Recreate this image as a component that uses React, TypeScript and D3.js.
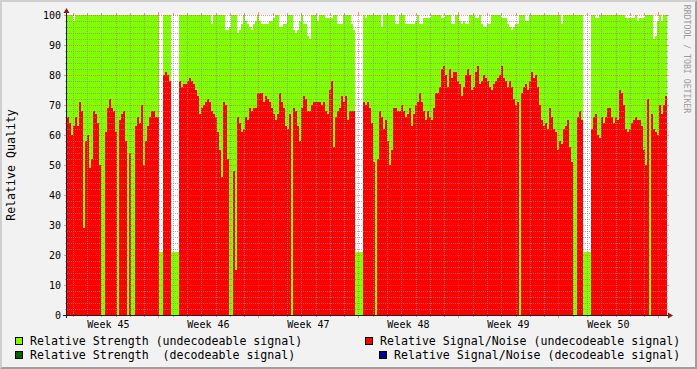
import React from "react";
import * as d3 from "d3";

// Relative Signal/Noise (undecodeable signal), one value per consolidated step (0 = no S/N sample)
const snPart1 = [66,64,60,63,66,63,71,68,29,58, 60,49,52,68,67,64,50,0,0,61, 69,72,69,68,61,0,65,67,68,58, 0,54,0,0,63,66,64,70,50,58, 63,66,68,68,66,66,0,0,80,81];
const snPart2 = [80,78,0,0,0,0,78,76,77,77, 78,79,78,77,75,73,67,69,70,71, 72,71,68,67,66,61,55,46,71,70, 52,0,0,48,15,66,64,61,62,66, 65,69,68,69,69,74,74,74,71,73];
const snPart3 = [72,71,69,67,65,67,74,71,69,63, 62,67,0,69,68,63,58,69,73,72, 68,68,70,71,71,71,71,70,71,68, 67,75,78,56,66,68,69,73,71,73, 65,68,68,68,0,0,0,0,71,70];
const snPart4 = [71,69,64,51,0,52,68,66,62,65, 58,50,55,69,69,68,68,70,68,66, 67,69,63,67,70,71,74,71,68,65, 68,66,65,69,74,74,76,82,83,80, 76,82,79,81,81,78,77,73,76,80];
const snPart5 = [82,80,75,76,81,83,77,78,80,79, 78,76,75,77,78,79,80,83,79,78, 76,78,76,72,70,71,0,74,76,77, 75,78,81,79,80,76,70,65,63,64, 62,69,66,62,61,55,58,57,62,63];
const snPart6 = [65,56,51,0,0,66,68,65,0,0, 0,0,62,66,67,60,59,66,64,66, 69,69,66,64,66,65,75,74,70,62, 61,62,64,65,66,65,65,63,55,50, 72,0,67,62,61,60,70,67,70,73];

// Relative Strength (undecodeable signal)
const stPart1 = [100,100,100,98,100,100,100,100,100,100, 100,100,100,100,100,100,100,100,100,100, 100,100,100,100,100,100,100,100,100,100, 100,100,100,100,100,100,100,100,100,100, 100,100,100,100,100,100,21,21,100,100];
const stPart2 = [100,100,21,21,21,21,100,100,100,100, 100,100,100,100,100,100,100,100,100,100, 100,100,97,100,100,100,100,100,100,95, 95,96,100,100,100,94,95,97,100,98, 97,96,95,97,98,100,98,97,97,97];
const stPart3 = [97,98,98,99,100,100,96,96,97,97, 100,100,100,95,94,95,98,100,97,97, 93,92,100,100,100,98,100,100,100,99, 99,99,99,100,100,97,97,97,100,100, 100,100,97,95,21,21,21,21,100,99];
const stPart4 = [100,100,100,100,100,100,100,96,100,100, 100,100,100,100,97,97,100,100,100,97, 97,97,97,97,98,100,97,97,99,99, 99,99,100,100,100,100,100,99,99,100, 100,100,97,97,100,100,98,97,98,97];
const stPart5 = [97,100,100,100,99,99,100,97,96,96, 97,97,100,100,100,100,100,99,99,99, 97,96,95,96,97,97,100,100,100,98, 98,100,100,100,100,100,100,100,100,100, 100,100,100,100,100,100,100,97,100,100];
const stPart6 = [100,100,100,100,100,100,100,100,21,21, 21,21,100,100,99,99,100,100,100,100, 100,100,100,100,100,100,100,100,100,99, 99,99,99,99,100,98,99,99,99,100, 100,100,100,92,93,98,100,98,100,100];

const weekLabels = ["Week 45", "Week 46", "Week 47", "Week 48", "Week 49", "Week 50"];
const yTicks = [0, 10, 20, 30, 40, 50, 60, 70, 80, 90, 100];
const totalDays = 42;
const firstWeekStartDay = -0.6;

const legendItems = [
  { label: "Relative Strength (undecodeable signal)", color: "#80ff00" },
  { label: "Relative Strength  (decodeable signal)", color: "#006400" },
  { label: "Relative Signal/Noise (undecodeable signal)", color: "#ff0000" },
  { label: "Relative Signal/Noise (decodeable signal)", color: "#000088" },
];

const W = 697, H = 369;
const L = 67, R = 667, T = 15, B = 315;
const MONO = "'DejaVu Sans Mono', monospace";
const GRID = "rgba(143,143,143,0.75)";
const MGRID = "rgba(222,79,79,0.6)";

export default function App() {
  const sn = [...snPart1, ...snPart2, ...snPart3, ...snPart4, ...snPart5, ...snPart6];
  const st = [...stPart1, ...stPart2, ...stPart3, ...stPart4, ...stPart5, ...stPart6];
  const n = sn.length;
  const dayPerStep = totalDays / n;
  const x = d3.scaleLinear().domain([0, totalDays]).range([L, R]);
  const y = d3.scaleLinear().domain([0, 100]).range([B, T]);

  const minorY = d3.range(0, 101, 2).filter((v) => v % 10 !== 0);
  const dayLines: number[] = [];
  for (let d = firstWeekStartDay; d < totalDays; d += 1) if (d > 0) dayLines.push(d);
  const weekLines = dayLines.filter((_, i) => false || false);
  const weekStarts = weekLabels.map((_, i) => firstWeekStartDay + 7 * i).concat([firstWeekStartDay + 7 * weekLabels.length]);
  const isWeek = (d: number) => weekStarts.some((w) => Math.abs(w - d) < 1e-6);
  const px = (v: number) => Math.round(v) + 0.5;

  return (
    <svg width={W} height={H} style={{ position: "absolute", left: 0, top: 0 }} xmlns="http://www.w3.org/2000/svg">
      <rect x={0} y={0} width={W} height={H} fill="#f2f2f2" />
      <polygon points={`0,0 ${W},0 ${W - 2},2 2,2 2,${H - 2} 0,${H}`} fill="#cfcfcf" />
      <polygon points={`${W},0 ${W},${H} 0,${H} 2,${H - 2} ${W - 2},${H - 2} ${W - 2},2`} fill="#9e9e9e" />
      <rect x={L} y={T} width={R - L} height={B - T} fill="#ffffff" />
      <g shapeRendering="crispEdges">
        {st.map((v, i) => (
          <rect key={"g" + i} x={x(i * dayPerStep)} width={x((i + 1) * dayPerStep) - x(i * dayPerStep)} y={y(v)} height={B - y(v)} fill="#80ff00" />
        ))}
        {sn.map((v, i) =>
          v > 0 ? (
            <rect key={"r" + i} x={x(i * dayPerStep)} width={x((i + 1) * dayPerStep) - x(i * dayPerStep)} y={y(v)} height={B - y(v)} fill="#ff0000" />
          ) : null
        )}
      </g>
      <g shapeRendering="crispEdges">
        {minorY.map((v) => (
          <g key={"my" + v}>
            <line x1={L} x2={R} y1={px(y(v))} y2={px(y(v))} stroke={GRID} strokeDasharray="1,1" />
            <line x1={L - 2} x2={L} y1={px(y(v))} y2={px(y(v))} stroke={GRID} />
            <line x1={R - 1} x2={R + 1} y1={px(y(v))} y2={px(y(v))} stroke={GRID} />
          </g>
        ))}
        {dayLines.filter((d) => !isWeek(d)).map((d) => (
          <g key={"dx" + d}>
            <line x1={px(x(d))} x2={px(x(d))} y1={T} y2={B} stroke={GRID} strokeDasharray="1,1" />
            <line x1={px(x(d))} x2={px(x(d))} y1={B} y2={B + 2} stroke={GRID} />
            <line x1={px(x(d))} x2={px(x(d))} y1={T - 2} y2={T} stroke={GRID} />
          </g>
        ))}
        {yTicks.filter((v) => v > 0).map((v) => (
          <g key={"My" + v}>
            <line x1={L} x2={R} y1={px(y(v))} y2={px(y(v))} stroke={MGRID} strokeDasharray="1,1" />
            <line x1={L - 3} x2={L} y1={px(y(v))} y2={px(y(v))} stroke={MGRID} />
            <line x1={R - 1} x2={R + 2} y1={px(y(v))} y2={px(y(v))} stroke={MGRID} />
          </g>
        ))}
        {weekStarts.filter((d) => d > 0 && d < totalDays).map((d) => (
          <g key={"wx" + d}>
            <line x1={px(x(d))} x2={px(x(d))} y1={T} y2={B} stroke={MGRID} strokeDasharray="1,1" />
            <line x1={px(x(d))} x2={px(x(d))} y1={B} y2={B + 3} stroke={MGRID} />
            <line x1={px(x(d))} x2={px(x(d))} y1={T - 3} y2={T} stroke={MGRID} />
          </g>
        ))}
        <line x1={L - 4} x2={R + 3} y1={B + 0.5} y2={B + 0.5} stroke="#1f1f1f" />
        <line x1={L - 0.5} x2={L - 0.5} y1={B + 3} y2={T - 4} stroke="#1f1f1f" />
      </g>
      <polygon points={`${L - 3.5},${T - 2} ${L + 2.5},${T - 2} ${L - 0.5},${T - 7}`} fill="#7f1f1f" />
      <polygon points={`${R + 1},${B - 2.5} ${R + 1},${B + 3.5} ${R + 6},${B + 0.5}`} fill="#7f1f1f" />

      {yTicks.map((v) => (
        <text key={"yl" + v} x={61} y={y(v)} dy="0.36em" textAnchor="end" fontFamily={MONO} fontSize={10} fill="#000">
          {v}
        </text>
      ))}
      {weekLabels.map((lab, i) => (
        <text key={lab} x={x(firstWeekStartDay + 7 * i + 3.5)} y={328} textAnchor="middle" fontFamily={MONO} fontSize={10} fill="#000">
          {lab}
        </text>
      ))}
      <text transform={`translate(15,165) rotate(-90)`} textAnchor="middle" fontFamily={MONO} fontSize={11.6} fill="#000">
        Relative Quality
      </text>
      <text transform={`translate(684,59) rotate(90)`} textAnchor="middle" fontFamily={MONO} fontSize={8.2} fill="#9a9a9a">
        RRDTOOL / TOBI OETIKER
      </text>

      {legendItems.map((it, i) => {
        const col = i < 2 ? 0 : 1;
        const row = i % 2;
        const bx = col === 0 ? 15.5 : row === 0 ? 365.5 : 379.5;
        const by = 337.5 + row * 14;
        return (
          <g key={it.label}>
            <rect x={bx} y={by} width={7} height={7} fill={it.color} stroke="#000" shapeRendering="crispEdges" />
            <text x={bx + 14.5} y={345 + row * 14} fontFamily={MONO} fontSize={11.6} fill="#000" style={{ whiteSpace: "pre" }}>
              {it.label}
            </text>
          </g>
        );
      })}
    </svg>
  );
}
